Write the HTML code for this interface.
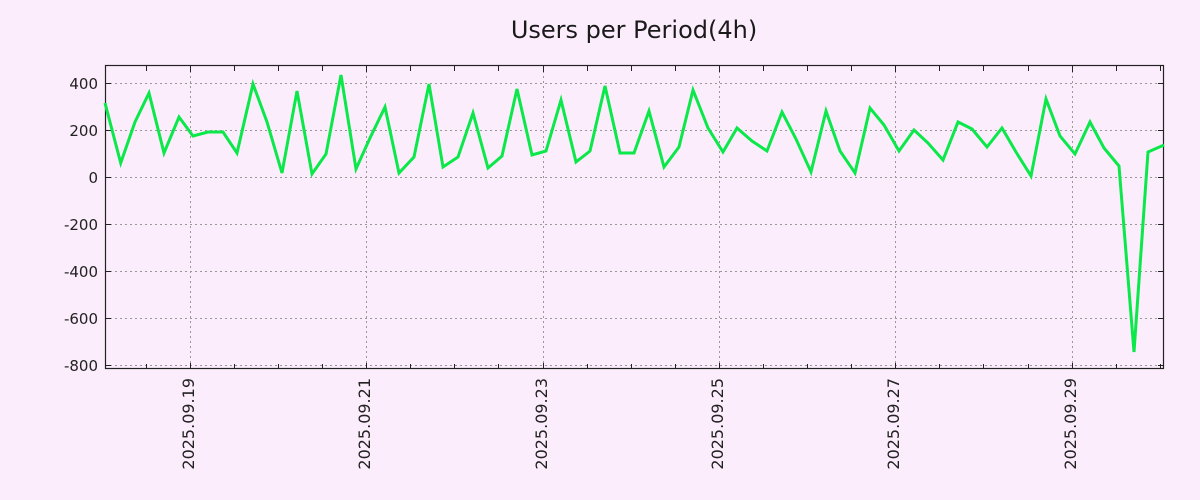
<!DOCTYPE html>
<html><head><meta charset="utf-8"><style>
html,body{margin:0;padding:0;background:#fcedfc;}
svg{display:block;font-family:"DejaVu Sans","Liberation Sans",sans-serif;}
</style></head><body>
<svg width="1200" height="500" viewBox="0 0 1200 500">
<rect width="1200" height="500" fill="#fcedfc"/>
<text x="634" y="38" font-size="24" text-anchor="middle" fill="#1a1a1a">Users per Period(4h)</text>
<g stroke="#999" stroke-width="1" stroke-dasharray="2,3">
<line x1="105" x2="1164" y1="83.5" y2="83.5"/>
<line x1="105" x2="1164" y1="130.5" y2="130.5"/>
<line x1="105" x2="1164" y1="177.5" y2="177.5"/>
<line x1="105" x2="1164" y1="224.5" y2="224.5"/>
<line x1="105" x2="1164" y1="271.5" y2="271.5"/>
<line x1="105" x2="1164" y1="318.5" y2="318.5"/>
<line x1="105" x2="1164" y1="365.5" y2="365.5"/>
<line x1="190.5" x2="190.5" y1="66" y2="369"/>
<line x1="366.5" x2="366.5" y1="66" y2="369"/>
<line x1="543.5" x2="543.5" y1="66" y2="369"/>
<line x1="719.5" x2="719.5" y1="66" y2="369"/>
<line x1="895.5" x2="895.5" y1="66" y2="369"/>
<line x1="1072.5" x2="1072.5" y1="66" y2="369"/>
</g>
<rect x="105.5" y="65.5" width="1058" height="303" fill="none" stroke="#222" stroke-width="1.2"/>
<g stroke="#222" stroke-width="1">
<path d="M105 83.5h6M105 130.5h6M105 177.5h6M105 224.5h6M105 271.5h6M105 318.5h6M105 365.5h6"/>
<path d="M1164 83.5h-6M1164 130.5h-6M1164 177.5h-6M1164 224.5h-6M1164 271.5h-6M1164 318.5h-6M1164 365.5h-6"/>
<path d="M146.5 369v-5M190.5 369v-6M234.5 369v-5M278.5 369v-5M322.5 369v-5M366.5 369v-6M410.5 369v-5M454.5 369v-5M498.5 369v-5M543.5 369v-6M587.5 369v-5M631.5 369v-5M675.5 369v-5M719.5 369v-6M763.5 369v-5M807.5 369v-5M851.5 369v-5M895.5 369v-6M939.5 369v-5M983.5 369v-5M1028.5 369v-5M1072.5 369v-6M1116.5 369v-5M1160.5 369v-5"/>
<path d="M146.5 66v5M190.5 66v6M234.5 66v5M278.5 66v5M322.5 66v5M366.5 66v6M410.5 66v5M454.5 66v5M498.5 66v5M543.5 66v6M587.5 66v5M631.5 66v5M675.5 66v5M719.5 66v6M763.5 66v5M807.5 66v5M851.5 66v5M895.5 66v6M939.5 66v5M983.5 66v5M1028.5 66v5M1072.5 66v6M1116.5 66v5M1160.5 66v5"/>
</g>
<g font-size="15" fill="#222" text-anchor="end">
<text x="98" y="89">400</text>
<text x="98" y="136">200</text>
<text x="98" y="183">0</text>
<text x="98" y="230">-200</text>
<text x="98" y="277">-400</text>
<text x="98" y="324">-600</text>
<text x="98" y="371">-800</text>
</g>
<g font-size="16" fill="#222" text-anchor="end">
<text transform="translate(194,378) rotate(-90)">2025.09.19</text>
<text transform="translate(370,378) rotate(-90)">2025.09.21</text>
<text transform="translate(547,378) rotate(-90)">2025.09.23</text>
<text transform="translate(723,378) rotate(-90)">2025.09.25</text>
<text transform="translate(899,378) rotate(-90)">2025.09.27</text>
<text transform="translate(1076,378) rotate(-90)">2025.09.29</text>
</g>
<polyline fill="none" stroke="#0be84a" stroke-width="3" stroke-linejoin="miter" points="105,103 120.7,163 135,122 149,93 164,153 179,117 193,136 208,132 223,132 237,153 253,84 267,122 282,173 297,91 312,174 326,154 341,75 356,169 370,138 385,107 399,173 414,157 429,84 443,167 458,157 473,113 488,168 502,156 517,89 532,155 546,151 561,100 576,162 590,151 605,86 620,153 634,153 649,111 664,167 679,147 693,90 708,128 723,152 737,128 752,141 767,151 782,112 796,139 811,172 826,111 840,151 855,173 870,108 884,125 899,151 914,130 928,143 943,160 958,122 972,129 987,147 1002,128 1016,152 1031,176 1046,99 1060,136 1075,154 1090,122 1104,148 1119,166 1134,352 1148,152 1164,145"/>
</svg>
</body></html>
